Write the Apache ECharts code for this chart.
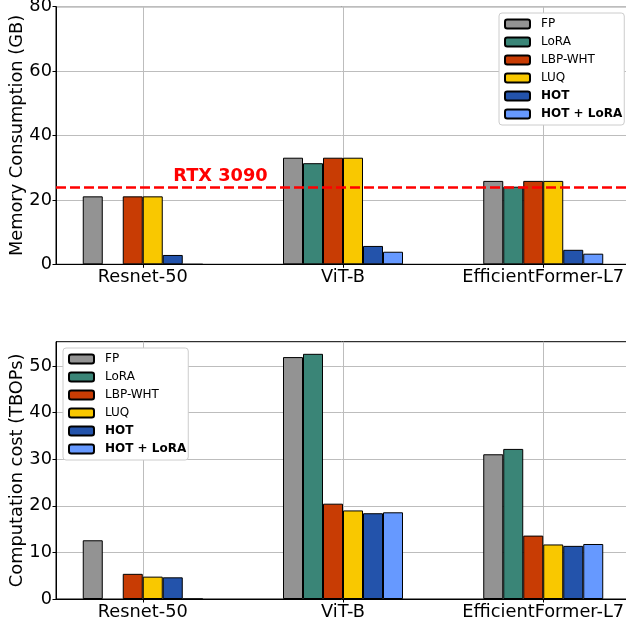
<!DOCTYPE html>
<html>
<head>
<meta charset="utf-8">
<script src="https://cdn.jsdelivr.net/npm/echarts@6/dist/echarts.min.js"></script>
<style>
html,body{margin:0;padding:0;background:#fff;}
#chart{width:626px;height:621px;}
</style>
</head>
<body>
<div id="chart"></div>
<script>
const categories = ['Resnet-50', 'ViT-B', 'EfficientFormer-L7'];
const methods = ['FP', 'LoRA', 'LBP-WHT', 'LUQ', 'HOT', 'HOT + LoRA'];
const colors = ['#939393', '#3a8577', '#c83c04', '#f9c800', '#2353ab', '#6699ff'];

// Memory consumption (GB)
const memFP = [21.1, 33.1, 25.9];
const memLoRA = [null, 31.4, 24.1];
const memLBP = [21.1, 33.1, 25.9];
const memLUQ = [21.1, 33.1, 25.9];
const memHOT = [2.9, 5.7, 4.5];
const memHOTLoRA = [0, 3.9, 3.3];
const rtxLimit = 24;

// Computation cost (TBOPs)
const compFP = [12.6, 51.9, 31.05];
const compLoRA = [null, 52.6, 32.2];
const compLBP = [5.4, 20.45, 13.6];
const compLUQ = [4.8, 19.0, 11.7];
const compHOT = [4.65, 18.4, 11.4];
const compHOTLoRA = [0, 18.6, 11.8];

const memTicks = [0, 20, 40, 60, 80];
const compTicks = [0, 10, 20, 30, 40, 50];

const memSeries = [memFP, memLoRA, memLBP, memLUQ, memHOT, memHOTLoRA];
const compSeries = [compFP, compLoRA, compLBP, compLUQ, compHOT, compHOTLoRA];

const FONT = 'DejaVu Sans';
const FS = 17.8;
const catIdx = categories.map((c, i) => i);

function xAxisCfg(gridIndex) {
  return {
    type: 'value', gridIndex: gridIndex,
    min: -0.4333, max: 2.4333,
    axisLine: { show: true, onZero: false, lineStyle: { color: '#000', width: 1 } },
    axisTick: { show: true, length: 3.5, inside: false, customValues: catIdx, lineStyle: { color: '#000' } },
    axisLabel: { show: true, customValues: catIdx, margin: 4, color: '#000', fontFamily: FONT, fontSize: FS,
      formatter: v => categories[Math.round(v)] },
    splitLine: { show: true, lineStyle: { color: '#bdbdbd', width: 1 } }
  };
}
function yAxisCfg(gridIndex, name, ticks, max) {
  return {
    type: 'value', gridIndex: gridIndex, min: ticks[0], max: max, interval: ticks[1] - ticks[0],
    name: name, nameLocation: 'middle', nameGap: 30, nameRotate: 90, nameMoveOverlap: false,
    nameTextStyle: { fontFamily: FONT, fontSize: FS, color: '#000' },
    axisLine: { show: true, onZero: false, lineStyle: { color: '#000', width: 1 } },
    axisTick: { show: true, length: 3.5, inside: false, customValues: ticks, lineStyle: { color: '#000' } },
    axisLabel: { color: '#000', fontFamily: FONT, fontSize: FS, margin: 4, customValues: ticks },
    splitLine: { show: true, lineStyle: { color: '#bdbdbd', width: 1 } }
  };
}
function legendCfg(left, top) {
  return {
    orient: 'vertical', left: left, top: top,
    backgroundColor: '#fff', borderColor: '#cccccc', borderWidth: 1, borderRadius: 3,
    padding: [4, 2, 4, 5],
    itemWidth: 25, itemHeight: 9, itemGap: 4,
    textStyle: { fontFamily: FONT, fontSize: 12, color: '#000', lineHeight: 14, padding: [0, 0, 0, 6] },
    data: methods.map((m, i) => i >= 4 ? { name: m, textStyle: { fontWeight: 'bold' } } : { name: m })
  };
}

const series = [];
[memSeries, compSeries].forEach((set, g) => {
  set.forEach((vals, k) => {
    const s = {
      type: 'bar', name: methods[k], xAxisIndex: g, yAxisIndex: g,
      barWidth: 20, barGap: '0%',
      itemStyle: { color: colors[k], borderColor: '#000', borderWidth: 1 },
      data: vals.map((v, i) => [i, v == null ? '-' : v]),
      z: 3
    };
    if (g === 0 && k === 0) {
      s.markLine = {
        silent: true, symbol: ['none', 'none'],
        lineStyle: { color: '#ff0000', type: [10, 4], width: 2.6 },
        label: { show: false },
        data: [{ yAxis: rtxLimit }],
        z: 5
      };
      // markPoint on the FP series is shifted by the FP bar offset (-0.25 units)
      s.markPoint = {
        silent: true, symbol: 'rect', symbolSize: 0,
        label: { show: true, position: 'inside', formatter: 'RTX 3090', color: '#ff0000',
          fontFamily: FONT, fontWeight: 'bold', fontSize: FS },
        data: [{ coord: [0.638, 27.3] }]
      };
    }
    series.push(s);
  });
});

const gridBase = { left: 56, width: 574, show: true, borderColor: '#000', borderWidth: 1,
  backgroundColor: 'transparent', containLabel: false, outerBoundsMode: 'none' };
const option = {
  animation: false,
  backgroundColor: '#fff',
  grid: [
    Object.assign({}, gridBase, { top: 6.7, height: 257.6 }),
    Object.assign({}, gridBase, { top: 341.7, height: 257.3 })
  ],
  xAxis: [xAxisCfg(0), xAxisCfg(1)],
  yAxis: [
    yAxisCfg(0, 'Memory Consumption (GB)', memTicks, memTicks[memTicks.length - 1]),
    yAxisCfg(1, 'Computation cost (TBOPs)', compTicks, 55.2)
  ],
  legend: [legendCfg(499, 13), legendCfg(63, 348)],
  series: series
};

const chart = echarts.init(document.getElementById('chart'), null, { renderer: 'canvas' });
chart.setOption(option);
</script>
</body>
</html>
